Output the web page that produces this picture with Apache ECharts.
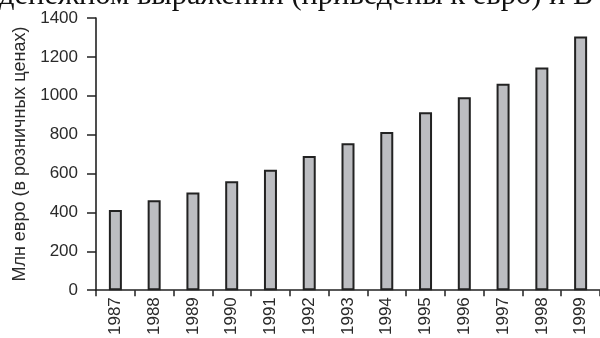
<!DOCTYPE html>
<html><head><meta charset="utf-8">
<script src="https://cdn.jsdelivr.net/npm/echarts@6/dist/echarts.min.js"></script>
<style>html,body{margin:0;padding:0;background:#fff}#c{width:600px;height:338px}</style>
</head><body><div id="c"></div>
<script>
var years = ['1987','1988','1989','1990','1991','1992','1993','1994','1995','1996','1997','1998','1999'];
var values = [412, 462, 502, 560, 620, 690, 756, 814, 915, 992, 1062, 1146, 1305];
var yTicks = [0, 200, 400, 600, 800, 1000, 1200, 1400];
var yName = 'Млн евро (в розничных ценах)';
var titleText = 'денежном выражении (приведены к евро) и В';

var chart = echarts.init(document.getElementById('c'), null, {renderer:'canvas'});
var cf = '"Liberation Sans","Arial",sans-serif';
chart.setOption({
  animation:false,
  backgroundColor:'#fff',
  graphic:[{type:'text', left:-1, top:-20, style:{text:titleText, font:'30.5px "Liberation Serif","Times New Roman",serif', fill:'#111'}}],
  grid:{left:96, right:-2, top:18, bottom:44},
  xAxis:{type:'category', data:years,
    axisLine:{lineStyle:{color:'#222', width:1.6}},
    axisTick:{show:true, length:6, lineStyle:{color:'#222', width:1.5}},
    axisLabel:{rotate:90, color:'#2a2a2a', fontSize:17, fontFamily:cf, margin:7}},
  yAxis:{type:'value', min:0, max:1400, interval:200,
    name:yName, nameLocation:'middle', nameGap:65, nameRotate:90,
    nameTextStyle:{fontSize:18, color:'#2a2a2a', fontFamily:cf},
    axisLine:{show:true, lineStyle:{color:'#222', width:1.6}},
    axisTick:{show:true, length:9, lineStyle:{color:'#222', width:1.5}},
    axisLabel:{color:'#2a2a2a', fontSize:17, fontFamily:cf, margin:18,
      formatter:function(v){return yTicks.indexOf(v)>=0? String(v):'';}},
    splitLine:{show:false}},
  series:[{type:'bar', data:values, barWidth:13,
    itemStyle:{color:'#bcbdc1', borderColor:'#222', borderWidth:2}}]
});
</script></body></html>
